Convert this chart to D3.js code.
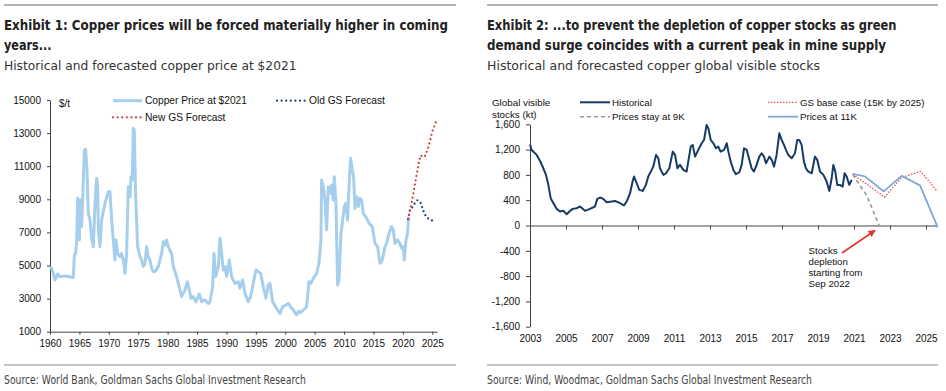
<!DOCTYPE html>
<html><head><meta charset="utf-8">
<script src="https://cdn.jsdelivr.net/npm/d3@7"></script>
<style>body{margin:0;background:#fff}</style>
</head><body><svg id="c" width="946" height="391"></svg>
<script>
// ---------- Exhibit 1 data ----------
const priceYear = [1960.0,1960.28,1960.57,1960.85,1961.3,1961.7,1962.55,1963.97,1964.14,1964.36,1964.53,1964.7,1964.87,1964.99,1965.1,1965.38,1965.55,1965.84,1966.06,1966.29,1966.52,1966.8,1967.08,1967.37,1967.65,1967.93,1968.1,1968.22,1968.5,1968.78,1969.35,1969.92,1970.2,1970.48,1970.76,1971.05,1971.22,1971.5,1971.9,1972.18,1972.46,1972.75,1973.03,1973.31,1973.6,1973.77,1973.99,1974.16,1974.33,1974.56,1974.9,1975.3,1975.58,1975.86,1976.15,1976.43,1976.71,1977.0,1977.28,1977.56,1977.85,1978.41,1978.98,1979.26,1979.55,1979.83,1980.11,1980.4,1980.68,1980.97,1981.53,1981.82,1982.38,1982.95,1983.35,1983.69,1983.97,1984.37,1984.82,1985.39,1985.78,1986.35,1986.92,1987.2,1987.65,1987.88,1988.16,1988.62,1988.9,1989.18,1989.46,1989.75,1990.03,1990.48,1990.88,1991.45,1992.01,1992.3,1992.75,1993.15,1993.71,1994.11,1994.56,1995.02,1995.41,1995.81,1996.26,1996.72,1997.11,1997.4,1997.85,1998.53,1999.1,1999.55,2000.12,2000.51,2000.91,2001.36,2001.93,2002.3,2002.6,2003.07,2003.63,2004.03,2004.37,2004.77,2005.33,2005.73,2006.07,2006.18,2006.47,2006.75,2007.03,2007.32,2007.6,2007.88,2008.17,2008.34,2008.62,2008.9,2009.13,2009.47,2009.7,2010.04,2010.32,2010.6,2010.89,2011.11,2011.4,2011.62,2011.85,2012.13,2012.41,2012.7,2012.98,2013.26,2013.66,2014.0,2014.23,2014.79,2015.25,2015.7,2016.1,2016.5,2016.95,2017.23,2017.63,2018.08,2018.36,2018.65,2019.1,2019.5,2019.78,2020.06,2020.23,2020.52,2020.8,2020.91,2021.03];
const priceValue = [4930,4830,4520,4120,4490,4320,4360,4280,5630,5730,6540,9060,8750,6540,8960,7350,8960,11980,12020,10770,8150,7750,6640,6140,8760,10270,9760,7150,6140,7750,8760,9460,9460,7750,6540,5330,6540,5730,5530,5730,5330,4530,5730,9760,9160,10370,10170,13290,13190,9160,6140,5530,5330,4930,5130,6140,5530,5330,4830,4630,4630,4930,5730,6440,6240,6540,6140,5900,5730,4930,4330,3920,3120,3520,4020,3520,3020,3120,2810,3280,2810,2920,2710,2810,3720,5730,4330,4930,6640,5730,4730,4930,4330,5330,4330,3920,4020,3620,4120,3320,2810,3120,3920,4730,4630,4530,3720,3020,3820,3920,2810,2410,2110,2510,2610,2710,2510,2310,2010,2250,2150,2310,2510,4020,3920,4220,4530,5130,6540,10170,9760,8960,7150,9760,9360,9860,8960,10370,8760,3820,4120,6940,7550,8560,8760,7750,10170,11480,10770,10370,8450,9160,8560,9060,8960,8150,7950,7750,7550,7350,6340,6140,5130,5330,6140,6340,6940,7350,7150,6340,6540,6340,6040,6140,5330,6540,6940,7750,7950];
const newGsYear = [2020.9,2021.25,2021.6,2022.0,2022.4,2022.75,2023.0,2023.5,2023.75,2024.2,2024.6,2025.0,2025.6];
const newGsValue = [7800,8400,9000,9800,10600,11300,11650,11550,11600,12000,12500,13100,13650];
const oldGsYear = [2020.9,2021.2,2021.5,2021.9,2022.5,2023.0,2023.5,2024.0,2024.8,2025.6];
const oldGsValue = [7800,8400,8450,8700,8950,8800,8300,7900,7750,7600];
const leftXTicks = [1960,1965,1970,1975,1980,1985,1990,1995,2000,2005,2010,2015,2020,2025];
const leftYTicks = [1000,3000,5000,7000,9000,11000,13000,15000];

// ---------- Exhibit 2 data ----------
const stockYear = [2003.0,2003.09,2003.37,2003.56,2003.74,2003.89,2004.02,2004.15,2004.3,2004.48,2004.67,2004.85,2005.04,2005.19,2005.37,2005.59,2005.78,2006.06,2006.33,2006.61,2006.74,2006.89,2007.07,2007.26,2007.54,2007.72,2008.0,2008.22,2008.37,2008.56,2008.7,2008.78,2008.93,2009.07,2009.26,2009.44,2009.57,2009.76,2009.85,2010.0,2010.13,2010.22,2010.41,2010.56,2010.74,2010.93,2011.06,2011.19,2011.33,2011.52,2011.7,2011.93,2012.04,2012.17,2012.35,2012.54,2012.67,2012.81,2012.91,2013.04,2013.19,2013.33,2013.46,2013.59,2013.78,2013.93,2014.02,2014.15,2014.3,2014.44,2014.63,2014.76,2014.89,2015.04,2015.19,2015.31,2015.44,2015.59,2015.74,2015.87,2016.0,2016.11,2016.3,2016.43,2016.56,2016.7,2016.85,2016.98,2017.11,2017.22,2017.35,2017.54,2017.72,2017.85,2017.96,2018.09,2018.22,2018.33,2018.46,2018.65,2018.83,2018.96,2019.11,2019.3,2019.48,2019.63,2019.76,2019.85,2019.96,2020.07,2020.22,2020.37,2020.48,2020.59,2020.74,2020.87];
const stockValue = [1280,1195,1116,1021,905,800,642,432,353,263,221,232,179,221,263,274,300,232,263,300,421,442,421,368,379,389,353,316,379,511,695,774,668,563,547,642,774,879,932,1116,1063,905,800,826,905,1168,1116,905,958,879,853,1247,1274,1089,1195,1300,1353,1589,1537,1353,1300,1221,1247,1168,1195,1300,1168,1010,879,811,842,958,1221,1195,1037,905,853,958,1089,1142,1089,984,1089,1037,932,1116,1458,1353,1274,1195,1116,1063,1142,1353,1353,1274,1010,905,853,826,1089,1037,853,800,695,547,747,958,853,642,642,616,826,774,642,721];
const base15Year = [2020.93,2022.7,2023.65,2024.7,2025.63];
const base15Value = [810,450,760,855,540];
const k9Year = [2020.93,2021.06,2021.7,2022.4];
const k9Value = [810,745,480,0];
const k11Year = [2020.93,2021.62,2022.65,2023.65,2024.67,2025.65];
const k11Value = [815,775,540,785,635,-30];
const rightXTicks = [2003,2005,2007,2009,2011,2013,2015,2017,2019,2021,2023,2025];
const rightYTicks = [-1600,-1200,-800,-400,0,400,800,1200,1600];

const svg = d3.select("#c");
const SANS = "'Liberation Sans', Arial, Helvetica, sans-serif";
const NARROW = "'Liberation Sans Narrow','Arial Narrow','DejaVu Sans Condensed', sans-serif";

// ---------- headers / footers ----------
function header(x0, x1, lines, sub, subW, src, srcW) {
  svg.append("line").attr("x1", x0).attr("x2", x1).attr("y1", 5).attr("y2", 5)
     .attr("stroke", "#b3b3b3").attr("stroke-width", 2);
  lines.forEach((l, i) => {
    svg.append("text").attr("x", x0).attr("y", 30 + i * 20).text(l.t)
      .attr("font-family", NARROW).attr("font-weight", "bold").attr("font-size", 13.5)
      .attr("fill", "#222").attr("textLength", l.w).attr("lengthAdjust", "spacingAndGlyphs");
  });
  svg.append("text").attr("x", x0).attr("y", 69.5).text(sub)
    .attr("font-family", NARROW).attr("font-size", 12.5).attr("fill", "#333")
    .attr("textLength", subW).attr("lengthAdjust", "spacingAndGlyphs");
  svg.append("line").attr("x1", x0).attr("x2", x1).attr("y1", 365).attr("y2", 365)
     .attr("stroke", "#b3b3b3").attr("stroke-width", 1.5);
  svg.append("text").attr("x", x0).attr("y", 384).text(src)
    .attr("font-family", NARROW).attr("font-size", 12.5).attr("fill", "#444")
    .attr("textLength", srcW).attr("lengthAdjust", "spacingAndGlyphs");
}
header(4, 456, [{t: "Exhibit 1: Copper prices will be forced materially higher in coming", w: 444},
                {t: "years...", w: 47.5}],
       "Historical and forecasted copper price at $2021", 292.5,
       "Source: World Bank, Goldman Sachs Global Investment Research", 302);
header(487, 938, [{t: "Exhibit 2: ...to prevent the depletion of copper stocks as green", w: 409.5},
                  {t: "demand surge coincides with a current peak in mine supply", w: 399}],
       "Historical and forecasted copper global visible stocks", 333,
       "Source: Wind, Woodmac, Goldman Sachs Global Investment Research", 325);

function styleAxis(g) {
  g.selectAll("path,line").attr("stroke", "#444");
  g.selectAll("text").attr("font-family", SANS).attr("font-size", 10).attr("fill", "#111");
}

// ---------- Exhibit 1 ----------
const x1 = d3.scaleLinear().domain([1960, 2025.8]).range([50, 437]);
const y1 = d3.scaleLinear().domain([1000, 15000]).range([331.7, 100]);
const g1 = svg.append("g");
g1.append("g").attr("transform", "translate(50,0)")
  .call(d3.axisLeft(y1).tickValues(leftYTicks).tickSize(3).tickPadding(6).tickSizeOuter(0).tickFormat(d3.format("d")))
  .call(styleAxis);
g1.append("g").attr("transform", "translate(0,331.7)")
  .call(d3.axisBottom(x1).tickValues(leftXTicks).tickSize(3).tickPadding(5).tickSizeOuter(0).tickFormat(d3.format("d")))
  .call(styleAxis);
g1.append("text").attr("x", 59).attr("y", 107).text("$/t").attr("font-family", SANS).attr("font-size", 10).attr("fill", "#111");

const line1 = d3.line().x(d => x1(d[0])).y(d => y1(d[1]));
g1.append("path").datum(d3.zip(priceYear, priceValue)).attr("d", line1)
  .attr("fill", "none").attr("stroke", "#a6cfee").attr("stroke-width", 3).attr("stroke-linejoin", "round");
g1.append("path").datum(d3.zip(oldGsYear, oldGsValue)).attr("d", line1)
  .attr("fill", "none").attr("stroke", "#1d3f6b").attr("stroke-width", 2.2)
  .attr("stroke-dasharray", "0,4.4").attr("stroke-linecap", "round");
g1.append("path").datum(d3.zip(newGsYear, newGsValue)).attr("d", line1)
  .attr("fill", "none").attr("stroke", "#cf3b3b").attr("stroke-width", 2.2)
  .attr("stroke-dasharray", "0,4.4").attr("stroke-linecap", "round");

// legend 1
const leg1 = [
  {x: 113, y: 100.7, t: "Copper Price at $2021", c: "#a6cfee", w: 3, d: null},
  {x: 277, y: 100.7, t: "Old GS Forecast", c: "#1d3f6b", w: 2.2, d: "0,4.6"},
  {x: 113, y: 117.3, t: "New GS Forecast", c: "#cf3b3b", w: 2.2, d: "0,4.6"}
];
leg1.forEach(l => {
  const ln = g1.append("line").attr("x1", l.x).attr("x2", l.x + 29).attr("y1", l.y).attr("y2", l.y)
    .attr("stroke", l.c).attr("stroke-width", l.w);
  if (l.d) ln.attr("stroke-dasharray", l.d).attr("stroke-linecap", "round");
  g1.append("text").attr("x", l.x + 32).attr("y", l.y + 3.6).text(l.t)
    .attr("font-family", SANS).attr("font-size", 10.2).attr("fill", "#111");
});

// ---------- Exhibit 2 ----------
const x2 = d3.scaleLinear().domain([2003, 2025.6]).range([530, 936.8]);
const y2 = d3.scaleLinear().domain([-1600, 1600]).range([326.7, 124.3]);
const g2 = svg.append("g");
const fmt = d => d3.format(",")(d).replace("\u2212", "-");
g2.append("g").attr("transform", "translate(530,0)")
  .call(d3.axisLeft(y2).tickValues(rightYTicks).tickSize(4).tickPadding(6).tickSizeOuter(0).tickFormat(fmt))
  .call(styleAxis);
g2.append("g").attr("transform", `translate(0,${y2(0)})`)
  .call(d3.axisBottom(x2).tickValues(rightXTicks).tickSize(4).tickSizeOuter(0).tickFormat(""))
  .call(styleAxis);
g2.append("g").attr("transform", `translate(0,${y2(-1600)})`)
  .call(d3.axisBottom(x2).tickValues(rightXTicks).tickSize(0).tickPadding(8).tickFormat(d3.format("d")))
  .call(g => g.select(".domain").remove())
  .call(styleAxis);

const line2 = d3.line().x(d => x2(d[0])).y(d => y2(d[1]));
g2.append("path").datum(d3.zip(stockYear, stockValue)).attr("d", line2)
  .attr("fill", "none").attr("stroke", "#173a64").attr("stroke-width", 2).attr("stroke-linejoin", "round");
g2.append("path").datum(d3.zip(k9Year, k9Value)).attr("d", line2)
  .attr("fill", "none").attr("stroke", "#9a9a9a").attr("stroke-width", 1.6).attr("stroke-dasharray", "4,3");
g2.append("path").datum(d3.zip(base15Year, base15Value)).attr("d", line2)
  .attr("fill", "none").attr("stroke", "#e34a4a").attr("stroke-width", 1.3).attr("stroke-dasharray", "1.4,1.6");
g2.append("path").datum(d3.zip(k11Year, k11Value)).attr("d", line2)
  .attr("fill", "none").attr("stroke", "#7fa6d6").attr("stroke-width", 1.8);

// axis title
g2.append("text").attr("font-family", SANS).attr("font-size", 9.8).attr("fill", "#111")
  .selectAll("tspan").data(["Global visible", "stocks (kt)"]).join("tspan")
  .attr("x", 492).attr("y", (d, i) => 106 + i * 11.5).text(d => d);

// legend 2
const leg2 = [
  {x: 580, y: 102.3, t: "Historical", c: "#173a64", w: 2, d: null},
  {x: 580, y: 116.7, t: "Prices stay at 9K", c: "#9a9a9a", w: 1.6, d: "4,3"},
  {x: 768, y: 102.3, t: "GS base case (15K by 2025)", c: "#e34a4a", w: 1.3, d: "1.4,1.6"},
  {x: 768, y: 116.7, t: "Prices at 11K", c: "#7fa6d6", w: 1.8, d: null}
];
leg2.forEach(l => {
  const ln = g2.append("line").attr("x1", l.x).attr("x2", l.x + 30).attr("y1", l.y).attr("y2", l.y)
    .attr("stroke", l.c).attr("stroke-width", l.w);
  if (l.d) ln.attr("stroke-dasharray", l.d);
  g2.append("text").attr("x", l.x + 32).attr("y", l.y + 3.5).text(l.t)
    .attr("font-family", SANS).attr("font-size", 9.7).attr("fill", "#111");
});

// annotation
g2.append("text").attr("font-family", SANS).attr("font-size", 9.7).attr("fill", "#111")
  .selectAll("tspan").data(["Stocks", "depletion", "starting from", "Sep 2022"]).join("tspan")
  .attr("x", 808.5).attr("y", (d, i) => 253.5 + i * 11).text(d => d);
const defs = svg.append("defs");
defs.append("marker").attr("id", "arr").attr("viewBox", "0 0 10 10").attr("refX", 9).attr("refY", 5)
  .attr("markerWidth", 4.5).attr("markerHeight", 4.5).attr("orient", "auto")
  .append("path").attr("d", "M0,0L10,5L0,10z").attr("fill", "#e8332a");
g2.append("line").attr("x1", 842).attr("y1", 253).attr("x2", 875).attr("y2", 230.5)
  .attr("stroke", "#e8332a").attr("stroke-width", 1.6).attr("marker-end", "url(#arr)");
</script></body></html>
